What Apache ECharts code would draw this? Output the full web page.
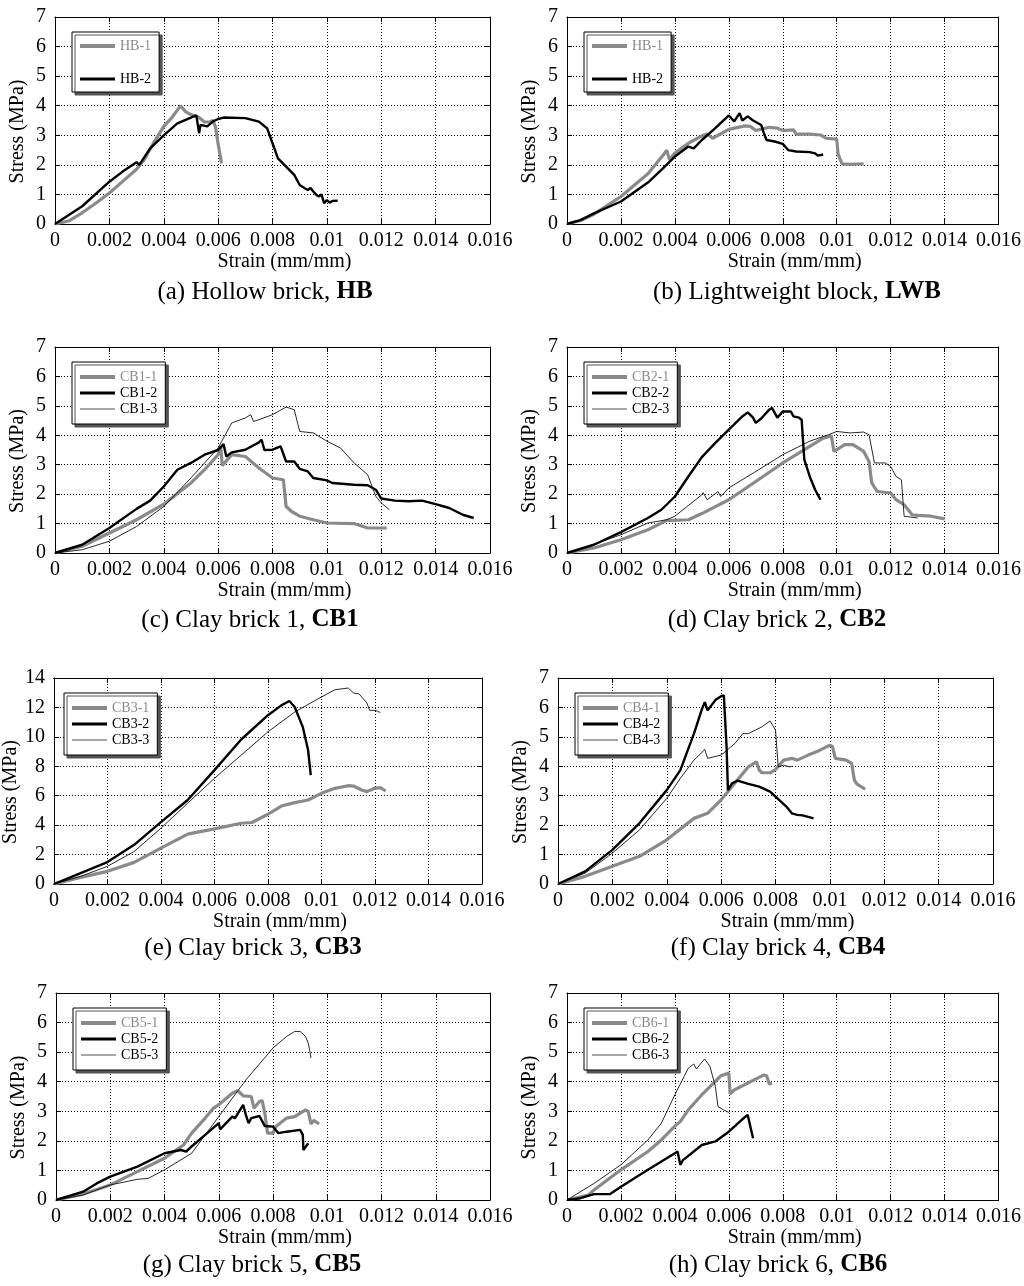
<!DOCTYPE html>
<html><head><meta charset="utf-8">
<script src="https://cdn.jsdelivr.net/npm/echarts@6/dist/echarts.min.js"></script>
<style>html,body{margin:0;padding:0;background:#fff}#c{width:1024px;height:1286px}</style>
</head><body><div id="c"></div>
<script>
// ---------- tick labels ----------
const xTickLabels = ['0','0.002','0.004','0.006','0.008','0.01','0.012','0.014','0.016'];
const yTicks7 = ['0','1','2','3','4','5','6','7'];
const yTicks14 = ['0','2','4','6','8','10','12','14'];

// ---------- (a) Hollow brick ----------
const HB_1 = [[0,0],[0.0005,0.1],[0.001,0.38],[0.0015,0.7],[0.002,1.05],[0.0025,1.45],[0.003,1.85],[0.0033,2.2],[0.0036,2.7],[0.004,3.3],[0.0043,3.6],[0.0045,3.85],[0.00462,4.0],[0.0048,3.8],[0.005,3.7],[0.0053,3.6],[0.0055,3.45],[0.0057,3.45],[0.0058,3.5],[0.0059,3.3],[0.006,2.7],[0.0061,2.2],[0.00612,2.05]];
const HB_2 = [[0,0],[0.001,0.6],[0.002,1.43],[0.0025,1.78],[0.003,2.09],[0.0031,2.0],[0.0035,2.56],[0.004,3.0],[0.0045,3.4],[0.005,3.6],[0.0052,3.67],[0.0053,3.07],[0.00535,3.35],[0.0056,3.3],[0.0058,3.46],[0.006,3.55],[0.0062,3.6],[0.007,3.58],[0.0075,3.46],[0.0078,3.24],[0.008,2.73],[0.0082,2.22],[0.0085,1.94],[0.0088,1.66],[0.009,1.32],[0.0092,1.2],[0.0093,1.15],[0.0094,1.22],[0.0095,1.1],[0.0096,1.0],[0.0097,0.93],[0.0098,1.0],[0.0099,0.7],[0.01,0.81],[0.0101,0.72],[0.0102,0.78],[0.0104,0.79]];
// ---------- (b) Lightweight block ----------
const LWB_1 = [[0,0],[0.0005,0.12],[0.001,0.33],[0.0012,0.45],[0.002,0.93],[0.003,1.7],[0.0036,2.37],[0.0037,2.5],[0.0038,2.17],[0.004,2.4],[0.0045,2.73],[0.005,2.98],[0.0052,3.04],[0.0054,2.9],[0.006,3.2],[0.0066,3.32],[0.0068,3.3],[0.007,3.16],[0.0075,3.27],[0.0078,3.24],[0.008,3.16],[0.0084,3.18],[0.0085,3.04],[0.009,3.04],[0.0094,3.01],[0.0096,2.9],[0.01,2.87],[0.01005,2.37],[0.0102,2.03],[0.0105,2.02],[0.011,2.03]];
const LWB_2 = [[0,0],[0.0005,0.13],[0.001,0.36],[0.002,0.76],[0.003,1.4],[0.0035,1.83],[0.004,2.28],[0.0045,2.62],[0.0047,2.56],[0.005,2.84],[0.0055,3.24],[0.006,3.67],[0.0062,3.47],[0.0064,3.75],[0.0065,3.5],[0.0067,3.64],[0.0069,3.5],[0.0072,3.35],[0.0073,3.07],[0.0074,2.84],[0.0077,2.79],[0.008,2.71],[0.0082,2.5],[0.0085,2.45],[0.009,2.43],[0.0092,2.39],[0.0093,2.31],[0.0095,2.35]];
// ---------- (c) Clay brick 1 ----------
const CB1_1 = [[0,0],[0.001,0.23],[0.002,0.68],[0.003,1.13],[0.004,1.66],[0.005,2.38],[0.0055,2.83],[0.006,3.34],[0.0061,3.6],[0.00615,2.97],[0.0065,3.34],[0.007,3.28],[0.0075,2.89],[0.008,2.55],[0.0084,2.49],[0.0085,1.58],[0.0087,1.41],[0.009,1.25],[0.0095,1.13],[0.01,1.02],[0.011,1.0],[0.0115,0.85],[0.0122,0.85]];
const CB1_2 = [[0,0],[0.001,0.28],[0.002,0.85],[0.003,1.5],[0.0035,1.78],[0.004,2.26],[0.0045,2.83],[0.005,3.06],[0.0055,3.34],[0.006,3.5],[0.0062,3.7],[0.0063,3.28],[0.0065,3.42],[0.007,3.51],[0.0075,3.76],[0.0076,3.85],[0.0077,3.5],[0.008,3.51],[0.0083,3.62],[0.0085,3.11],[0.0088,3.11],[0.009,2.86],[0.0093,2.77],[0.0095,2.55],[0.01,2.47],[0.0102,2.38],[0.011,2.32],[0.0115,2.3],[0.0118,2.15],[0.012,1.85],[0.0125,1.78],[0.013,1.76],[0.0135,1.78],[0.014,1.66],[0.0145,1.53],[0.015,1.3],[0.0154,1.19]];
const CB1_3 = [[0,0],[0.001,0.11],[0.002,0.4],[0.003,0.9],[0.004,1.58],[0.005,2.55],[0.006,3.57],[0.0065,4.42],[0.007,4.59],[0.0072,4.7],[0.0073,4.47],[0.0075,4.53],[0.008,4.7],[0.0085,4.96],[0.0088,4.87],[0.009,4.13],[0.0095,4.08],[0.01,3.8],[0.0105,3.57],[0.011,3.06],[0.0115,2.66],[0.0118,1.93],[0.012,1.7],[0.0123,1.47]];
// ---------- (d) Clay brick 2 ----------
const CB2_1 = [[0,0],[0.001,0.17],[0.002,0.45],[0.003,0.79],[0.0037,1.11],[0.004,1.11],[0.0045,1.13],[0.005,1.34],[0.006,1.81],[0.007,2.43],[0.008,3.06],[0.009,3.62],[0.0095,3.9],[0.0098,3.98],[0.0099,3.45],[0.0103,3.68],[0.0106,3.68],[0.011,3.45],[0.0112,3.11],[0.0113,2.38],[0.0115,2.09],[0.012,2.04],[0.0122,1.81],[0.0125,1.64],[0.0128,1.3],[0.013,1.28],[0.0135,1.25],[0.014,1.16]];
const CB2_2 = [[0,0],[0.001,0.28],[0.002,0.71],[0.003,1.19],[0.0035,1.47],[0.004,1.92],[0.0045,2.6],[0.005,3.26],[0.0055,3.74],[0.006,4.19],[0.0065,4.64],[0.0067,4.78],[0.0069,4.6],[0.007,4.42],[0.0072,4.57],[0.0075,4.87],[0.0076,4.93],[0.0078,4.6],[0.008,4.81],[0.0083,4.81],[0.0084,4.64],[0.0086,4.6],[0.0087,4.53],[0.0088,3.17],[0.009,2.6],[0.0092,2.15],[0.0094,1.81]];
const CB2_3 = [[0,0],[0.001,0.3],[0.002,0.62],[0.003,1.02],[0.0037,1.13],[0.004,1.25],[0.005,1.98],[0.00505,2.05],[0.0052,1.81],[0.0056,2.09],[0.0057,1.92],[0.006,2.21],[0.007,2.77],[0.008,3.34],[0.009,3.8],[0.0097,4.02],[0.01,4.13],[0.0105,4.08],[0.011,4.11],[0.0112,4.02],[0.0114,3.06],[0.0118,3.06],[0.012,2.94],[0.0122,2.6],[0.0124,2.49],[0.0125,1.25],[0.013,1.19]];
// ---------- (e) Clay brick 3 ----------
const CB3_1 = [[0,0],[0.001,0.45],[0.002,0.86],[0.003,1.47],[0.004,2.44],[0.005,3.39],[0.006,3.75],[0.007,4.13],[0.0074,4.18],[0.008,4.74],[0.0085,5.3],[0.009,5.53],[0.0095,5.71],[0.01,6.16],[0.0105,6.5],[0.011,6.68],[0.0112,6.66],[0.0115,6.39],[0.0117,6.28],[0.012,6.5],[0.0122,6.55],[0.0124,6.32]];
const CB3_2 = [[0,0],[0.001,0.74],[0.002,1.49],[0.003,2.66],[0.004,4.2],[0.005,5.71],[0.006,7.74],[0.007,9.82],[0.008,11.47],[0.0085,12.14],[0.0088,12.44],[0.009,12.03],[0.0093,10.68],[0.0095,9.1],[0.0096,7.4]];
const CB3_3 = [[0,0],[0.001,0.52],[0.002,1.2],[0.003,2.21],[0.004,3.79],[0.005,5.49],[0.006,7.18],[0.007,8.76],[0.008,10.34],[0.009,11.69],[0.01,12.71],[0.0105,13.2],[0.011,13.32],[0.0112,12.98],[0.0114,12.93],[0.0117,12.3],[0.0118,11.8],[0.012,11.8],[0.0121,11.74],[0.0122,11.65]];
// ---------- (f) Clay brick 4 ----------
const CB4_1 = [[0,0],[0.001,0.26],[0.002,0.6],[0.003,0.94],[0.004,1.5],[0.005,2.23],[0.0055,2.4],[0.006,2.86],[0.0065,3.42],[0.007,3.98],[0.0073,4.15],[0.0074,3.87],[0.0075,3.78],[0.0078,3.78],[0.008,3.89],[0.0083,4.21],[0.0086,4.27],[0.0088,4.21],[0.0092,4.38],[0.0096,4.53],[0.01,4.72],[0.0101,4.66],[0.0102,4.27],[0.0106,4.21],[0.0108,4.1],[0.0109,3.53],[0.011,3.39],[0.0113,3.22]];
const CB4_2 = [[0,0],[0.001,0.43],[0.002,1.16],[0.003,2.07],[0.004,3.19],[0.0045,3.87],[0.005,5.11],[0.0053,5.96],[0.0054,6.18],[0.0055,5.9],[0.0058,6.26],[0.006,6.38],[0.0061,6.41],[0.0062,4.66],[0.00625,3.19],[0.0064,3.42],[0.0066,3.51],[0.007,3.4],[0.0074,3.31],[0.0078,3.14],[0.008,2.97],[0.0084,2.63],[0.0086,2.4],[0.0088,2.35],[0.009,2.33],[0.0094,2.23]];
const CB4_3 = [[0,0],[0.001,0.37],[0.002,1.05],[0.003,1.84],[0.004,2.91],[0.0045,3.59],[0.005,4.21],[0.0054,4.57],[0.0055,4.27],[0.006,4.38],[0.0065,4.77],[0.0068,5.11],[0.007,5.11],[0.0075,5.34],[0.0078,5.54],[0.008,5.23],[0.0081,3.98],[0.0083,4.04],[0.0085,3.98],[0.0086,4.0]];
// ---------- (g) Clay brick 5 ----------
const CB5_1 = [[0,0],[0.001,0.2],[0.002,0.51],[0.003,0.96],[0.004,1.41],[0.0047,1.86],[0.005,2.26],[0.0055,2.77],[0.0058,3.1],[0.006,3.22],[0.0065,3.61],[0.0067,3.7],[0.0069,3.52],[0.0072,3.5],[0.0073,3.1],[0.0075,3.33],[0.0076,3.36],[0.0077,2.93],[0.0078,2.26],[0.008,2.26],[0.0081,2.48],[0.0085,2.77],[0.0088,2.82],[0.0092,3.05],[0.0093,2.99],[0.0094,2.57],[0.0095,2.69],[0.0097,2.57]];
const CB5_2 = [[0,0],[0.001,0.28],[0.0015,0.56],[0.002,0.79],[0.003,1.13],[0.004,1.58],[0.0046,1.69],[0.0048,1.64],[0.005,1.81],[0.0055,2.2],[0.006,2.6],[0.00605,2.39],[0.0065,2.82],[0.0066,2.77],[0.0069,3.22],[0.007,2.88],[0.0071,2.6],[0.0072,2.77],[0.0075,2.84],[0.0077,2.5],[0.008,2.48],[0.0082,2.26],[0.0085,2.31],[0.009,2.37],[0.0091,2.2],[0.00912,1.69],[0.0093,1.92]];
const CB5_3 = [[0,0],[0.001,0.17],[0.002,0.51],[0.003,0.7],[0.0034,0.73],[0.004,1.02],[0.005,1.58],[0.006,2.82],[0.007,4.06],[0.008,5.14],[0.0085,5.53],[0.0088,5.7],[0.009,5.7],[0.0092,5.53],[0.0093,5.3],[0.00935,5.08],[0.0094,4.8]];
// ---------- (h) Clay brick 6 ----------
const CB6_1 = [[0,0],[0.0008,0.17],[0.001,0.34],[0.002,1.02],[0.003,1.64],[0.0035,2.03],[0.004,2.5],[0.0042,2.65],[0.0045,3.05],[0.005,3.56],[0.0055,4.01],[0.0057,4.2],[0.006,4.29],[0.00605,3.59],[0.0062,3.72],[0.0065,3.86],[0.007,4.09],[0.0073,4.23],[0.0074,4.2],[0.0075,3.92],[0.0076,3.95]];
const CB6_2 = [[0,0],[0.0005,0.06],[0.001,0.2],[0.0016,0.2],[0.002,0.45],[0.003,1.02],[0.0035,1.3],[0.004,1.58],[0.0041,1.64],[0.0042,1.19],[0.0043,1.35],[0.005,1.86],[0.0055,1.98],[0.006,2.31],[0.0065,2.73],[0.0067,2.88],[0.0068,2.48],[0.0069,2.09]];
const CB6_3 = [[0,0],[0.001,0.56],[0.002,1.19],[0.003,2.03],[0.0035,2.6],[0.004,3.56],[0.0045,4.46],[0.0047,4.6],[0.0048,4.43],[0.005,4.66],[0.0051,4.77],[0.0053,4.52],[0.0055,3.84],[0.0056,3.16],[0.0058,3.05],[0.006,2.96]];

// ---------- panels (content) ----------
const panels = [
  {cap:['(a) Hollow brick, ','HB'], y14:false, s:[['HB-1',HB_1,'g'],['HB-2',HB_2,'k']]},
  {cap:['(b) Lightweight block, ','LWB'], y14:false, s:[['HB-1',LWB_1,'g'],['HB-2',LWB_2,'k']]},
  {cap:['(c) Clay brick 1, ','CB1'], y14:false, s:[['CB1-1',CB1_1,'g'],['CB1-2',CB1_2,'k'],['CB1-3',CB1_3,'t']]},
  {cap:['(d) Clay brick 2, ','CB2'], y14:false, s:[['CB2-1',CB2_1,'g'],['CB2-2',CB2_2,'k'],['CB2-3',CB2_3,'t']]},
  {cap:['(e) Clay brick 3, ','CB3'], y14:true,  s:[['CB3-1',CB3_1,'g'],['CB3-2',CB3_2,'k'],['CB3-3',CB3_3,'t']]},
  {cap:['(f) Clay brick 4, ','CB4'], y14:false, s:[['CB4-1',CB4_1,'g'],['CB4-2',CB4_2,'k'],['CB4-3',CB4_3,'t']]},
  {cap:['(g) Clay brick 5, ','CB5'], y14:false, s:[['CB5-1',CB5_1,'g'],['CB5-2',CB5_2,'k'],['CB5-3',CB5_3,'t']]},
  {cap:['(h) Clay brick 6, ','CB6'], y14:false, s:[['CB6-1',CB6_1,'g'],['CB6-2',CB6_2,'k'],['CB6-3',CB6_3,'t']]}
];

// ---------- layout ----------
const rects = [
  [55,17,435,207],[567,17,436,207],
  [55,347,435,206],[567,347,436,206],
  [47,678,435,206],[558,678,435,206],
  [56,993,434,207],[567,993,434,207]
];
const capPos = [[265,292],[797,292],[250,620],[777,620],[253,948],[778,948],[252,1265],[778,1265]];
const FONT = '"Liberation Serif","Times New Roman",serif';
const styles = {
  g:{color:'#8a8a8a', width:3.2},
  k:{color:'#000', width:2.4},
  t:{color:'#111', width:0.9}
};
const legendLine = {g:{color:'#8a8a8a',width:4}, k:{color:'#000',width:3.2}, t:{color:'#8a8a8a',width:1.5}};

const grids=[], xAxes=[], yAxes=[], series=[], legends=[], graphics=[];
panels.forEach((p,i)=>{
  const r = rects[i];
  grids.push({left:r[0], top:r[1], width:r[2], height:r[3], show:false});
  const xCommon = {type:'value', gridIndex:i, min:0, max:0.016, interval:0.002,
    axisLine:{show:true, onZero:false, lineStyle:{color:'#000',width:1}},
    axisTick:{show:true, inside:true, length:5, lineStyle:{color:'#000'}}};
  xAxes.push(Object.assign({}, xCommon, {position:'bottom',
    name:'Strain (mm/mm)', nameLocation:'middle', nameGap:27,
    nameTextStyle:{fontFamily:FONT, fontSize:20, color:'#000', padding:[0,0,0,24]},
    axisLabel:{fontFamily:FONT, fontSize:20, color:'#000', margin:7,
      formatter:v=>xTickLabels[Math.round(v/0.002)]},
    splitLine:{show:true, lineStyle:{color:'#000', type:[1,2], width:1}}}));
  xAxes.push(Object.assign({}, xCommon, {position:'top', axisLabel:{show:false}, splitLine:{show:false}}));
  const ymax = p.y14?14:7, yint = p.y14?2:1, yl = p.y14?yTicks14:yTicks7;
  const yCommon = {type:'value', gridIndex:i, min:0, max:ymax, interval:yint,
    axisLine:{show:true, onZero:false, lineStyle:{color:'#000',width:1}},
    axisTick:{show:true, inside:true, length:5, lineStyle:{color:'#000'}}};
  yAxes.push(Object.assign({}, yCommon, {position:'left',
    name:'Stress (MPa)', nameLocation:'middle', nameGap:27,
    nameTextStyle:{fontFamily:FONT, fontSize:20, color:'#000', padding:[0,22,0,0]},
    axisLabel:{fontFamily:FONT, fontSize:20, color:'#000', margin:9,
      formatter:v=>yl[Math.round(v/yint)]},
    splitLine:{show:true, lineStyle:{color:'#000', type:[1,2], width:1}}}));
  yAxes.push(Object.assign({}, yCommon, {position:'right', axisLabel:{show:false}, splitLine:{show:false}}));

  const ldata = [];
  p.s.forEach((s,j)=>{
    const st = styles[s[2]];
    series.push({type:'line', name:s[0], xAxisIndex:2*i, yAxisIndex:2*i, data:s[1],
      symbol:'none', showSymbol:false, animation:false, z: s[2]==='t'?3:(s[2]==='k'?4:2),
      lineStyle:{color:st.color, width:st.width}, itemStyle:{color:st.color}});
    ldata.push({name:s[0],
      lineStyle:{color:legendLine[s[2]].color, width:legendLine[s[2]].width},
      itemStyle:{opacity:0, color:'transparent', borderWidth:0},
      textStyle:{color: j===0?'#8a8a8a':'#000'}});
  });
  const two = p.s.length===2;
  legends.push({orient:'vertical', left:r[0]+17, top:r[1]+15,
    data:ldata, itemWidth:35, itemHeight:14, itemGap: two?19:2,
    padding: two?[7,8,6,6]:[8,8,8,6], selectedMode:false,
    backgroundColor:'#fff', borderColor:'#000', borderWidth:1,
    shadowColor:'#555', shadowOffsetX:3, shadowOffsetY:3, shadowBlur:0,
    textStyle:{fontFamily:FONT, fontSize:14}});

  graphics.push({type:'text', x:capPos[i][0], y:capPos[i][1], style:{
    text:'{n|'+p.cap[0]+'}{b|'+p.cap[1]+'}', align:'center', verticalAlign:'middle',
    rich:{n:{fontFamily:FONT, fontSize:25, fill:'#000'}, b:{fontFamily:FONT, fontSize:25, fontWeight:'bold', fill:'#000'}}}});
});

const chart = echarts.init(document.getElementById('c'), null, {renderer:'canvas'});
chart.setOption({animation:false, backgroundColor:'#fff', grid:grids, xAxis:xAxes, yAxis:yAxes,
  series:series, legend:legends, graphic:graphics});
</script></body></html>
